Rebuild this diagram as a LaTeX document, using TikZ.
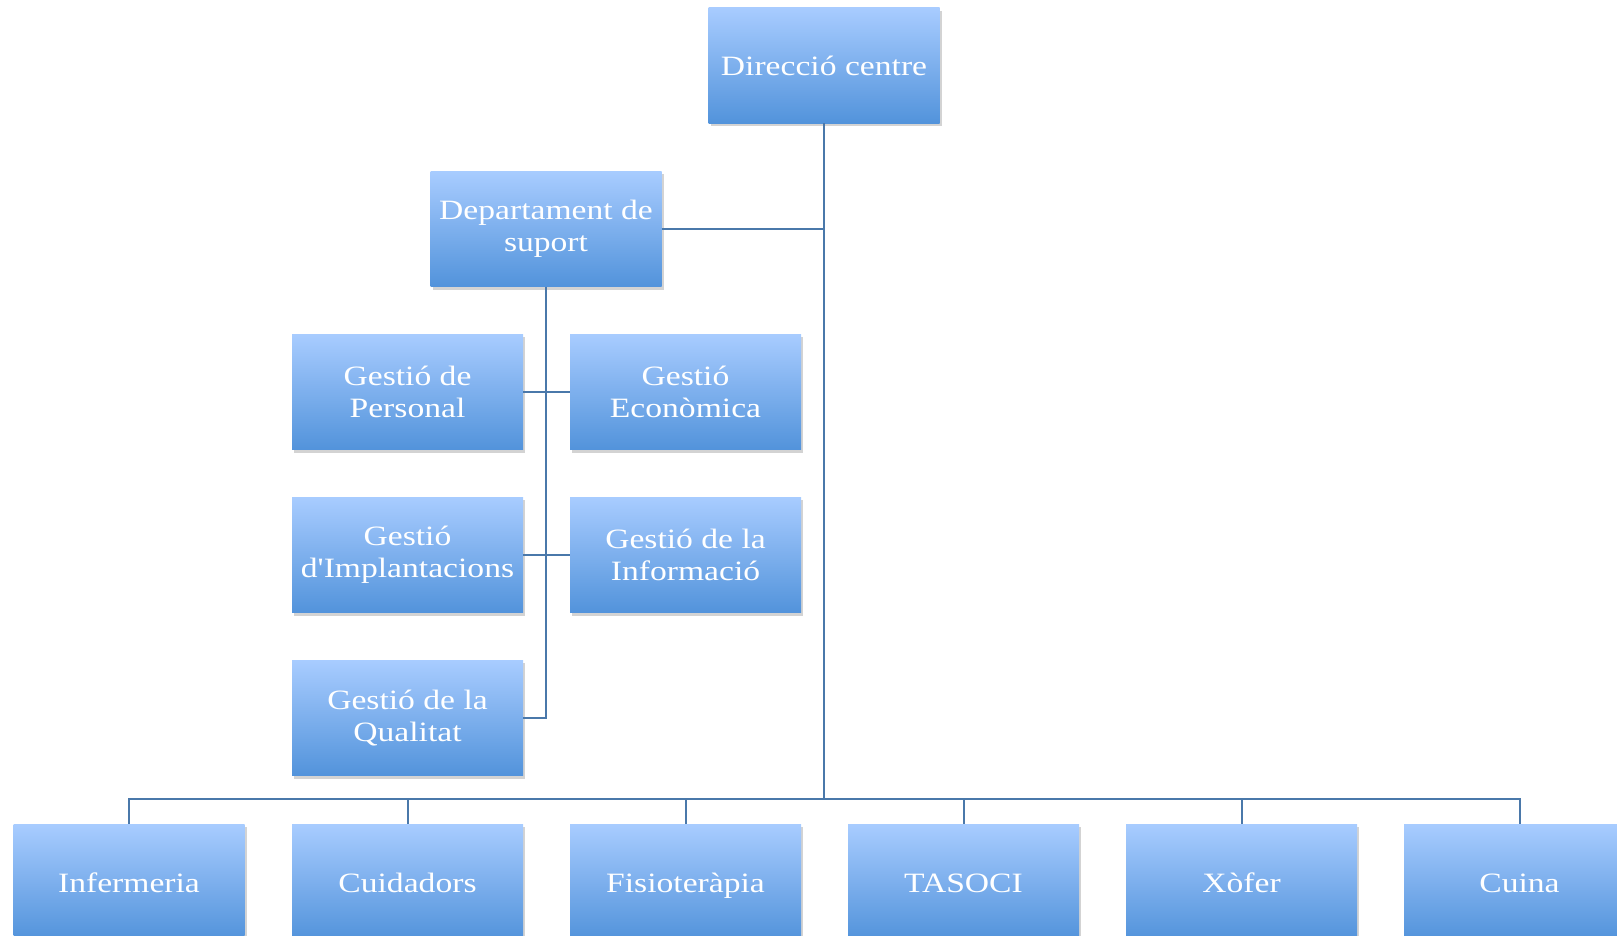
\documentclass[tikz,border=0pt]{standalone}
\usepackage{fontspec}
\setmainfont{Liberation Serif}[FakeStretch=1.2, Ligatures=TeXOff]
\usetikzlibrary{shadows}
\definecolor{boxtop}{RGB}{168,204,255}
\definecolor{boxbot}{RGB}{82,147,219}
\definecolor{linec}{RGB}{74,120,170}
\tikzset{
  orgbox/.style={rectangle, minimum width=231pt, minimum height=115.5pt, inner sep=0pt,
    top color=boxtop, bottom color=boxbot, text=white, align=center,
    font=\fontsize{28}{32}\selectfont,
    drop shadow={opacity=0.35, shadow xshift=2pt, shadow yshift=-3pt}},
  rowbox/.style={orgbox, text height=23pt, text depth=2pt},
  conn/.style={draw=linec, line width=2pt}
}
\begin{document}
\begin{tikzpicture}[x=1pt,y=-1pt]
\useasboundingbox (0,0) rectangle (1617,936);
\node[orgbox] (dir) at (824,65.5) {Direcció centre};
\node[orgbox] (dept) at (546,229) {Departament de\\suport};
\node[orgbox] (gp) at (407.5,392) {Gestió de\\Personal};
\node[orgbox] (ge) at (685.5,392) {Gestió\\Econòmica};
\node[orgbox] (gi) at (407.5,555) {Gestió\\d'Implantacions};
\node[orgbox] (gin) at (685.5,555) {Gestió de la\\Informació};
\node[orgbox] (gq) at (407.5,718) {Gestió de la\\Qualitat};
\node[rowbox] (b1) at (129,881.75) {Infermeria};
\node[rowbox] (b2) at (407.5,881.75) {Cuidadors};
\node[rowbox] (b3) at (685.5,881.75) {Fisioteràpia};
\node[rowbox] (b4) at (963.5,881.75) {TASOCI};
\node[rowbox] (b5) at (1241.5,881.75) {Xòfer};
\node[rowbox] (b6) at (1519.5,881.75) {Cuina};
\coordinate (bus) at (824,799);
\draw[conn] (dir.south) -- (bus);
\draw[conn] (dept.east) -- (dept.east -| dir.south);
\draw[conn] (dept.south) |- (gq.east);
\draw[conn] (gp.east) -- (ge.west);
\draw[conn] (gi.east) -- (gin.west);
\draw[conn] (b1.north) -- (b1.north |- bus) -- (b6.north |- bus) -- (b6.north);
\foreach \b in {b2,b3,b4,b5} { \draw[conn] (\b.north) -- (\b.north |- bus); }
\end{tikzpicture}
\end{document}
